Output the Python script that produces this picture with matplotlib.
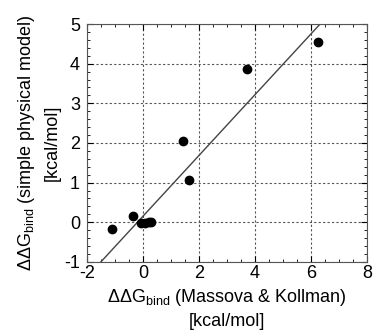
import numpy as np
import matplotlib
matplotlib.use('Agg')
from matplotlib import pyplot as plt
from matplotlib.ticker import MultipleLocator

plt.rcParams['font.family'] = ['Liberation Sans', 'DejaVu Sans']
plt.rcParams['mathtext.fontset'] = 'custom'
plt.rcParams['mathtext.rm'] = 'Liberation Sans'
plt.rcParams['mathtext.it'] = 'Liberation Sans'
plt.rcParams['axes.unicode_minus'] = False

# datos
x_mk = [-1.12, -0.35, -0.07, 0.08, 0.2, 0.3, 1.44, 1.65, 3.70, 6.26]
y_sp = [-0.16, 0.15, -0.02, -0.02, 0.0, 0.01, 2.05, 1.06, 3.87, 4.55]
pendiente = 0.767
ordenada = 0.15

fig = plt.figure(figsize=(3.73, 3.34), dpi=100)
ax = fig.add_axes([0.233, 0.216, 0.751, 0.712])

xx = np.array([-2, 8])
ax.plot(xx, pendiente*xx + ordenada, '-', color='#444444', lw=1.0)
ax.scatter(x_mk, y_sp, s=36, color='black', zorder=3)

ax.set_xlim(-2, 8)
ax.set_ylim(-1, 5)
ax.xaxis.set_major_locator(MultipleLocator(2))
ax.xaxis.set_minor_locator(MultipleLocator(0.5))
ax.yaxis.set_major_locator(MultipleLocator(1))
ax.yaxis.set_minor_locator(MultipleLocator(0.2))
ax.tick_params(which='both', direction='in', top=True, right=True, labelsize=13)
ax.tick_params(axis='x', pad=2)
ax.tick_params(axis='y', pad=5)
ax.tick_params(which='major', length=4)
ax.tick_params(which='minor', length=2)
ax.grid(True, which='major', linestyle=(0, (2, 2)), color='#555555', lw=0.8)
for s in ax.spines.values():
    s.set_color('#555555')

ax.set_xlabel(r'$\Delta\Delta$G$_{\rm bind}$ (Massova & Kollman)' + '\n[kcal/mol]', fontsize=13, linespacing=1.4)
ax.set_ylabel(r'$\Delta\Delta$G$_{\rm bind}$ (simple physical model)' + '\n[kcal/mol]', fontsize=13, linespacing=1.45)
ax.xaxis.set_label_coords(0.5, -0.105)
ax.yaxis.set_label_coords(-0.095, 0.5)

plt.savefig('out.png', dpi=100)
